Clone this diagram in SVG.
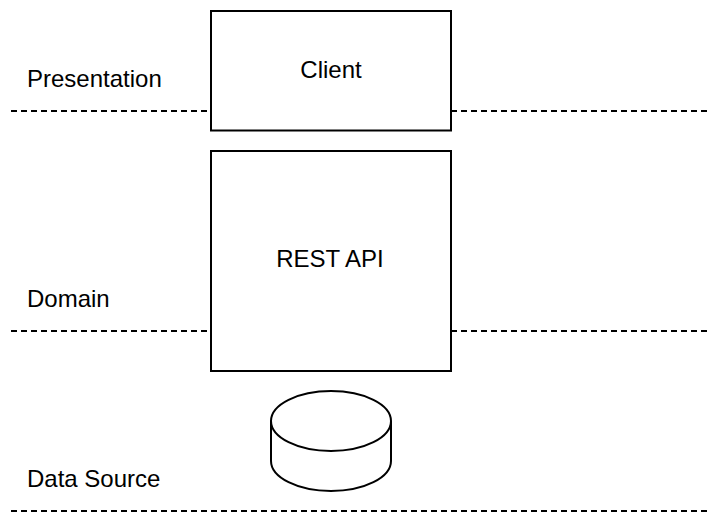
<svg xmlns="http://www.w3.org/2000/svg" width="726" height="526" viewBox="0 0 726 526">
  <style>
    .layer { stroke: #000; stroke-width: 2; stroke-dasharray: 6 4; fill: none; }
    .box { fill: #fff; stroke: #000; stroke-width: 2; }
    .label { font-family: "Liberation Sans", Arial, sans-serif; font-size: 24px; fill: #000; }
    .center { text-anchor: middle; }
  </style>
  <rect width="726" height="526" fill="#fff"/>

  <!-- layer boundaries -->
  <g id="connectors">
    <line class="layer" x1="11" y1="111" x2="711" y2="111"/>
    <line class="layer" x1="11" y1="331" x2="711" y2="331"/>
    <line class="layer" x1="11" y1="511" x2="711" y2="511"/>
  </g>

  <!-- layer names -->
  <g id="layer-presentation">
    <text class="label" x="27" y="87">Presentation</text>
  </g>
  <g id="layer-domain">
    <text class="label" x="27" y="307">Domain</text>
  </g>
  <g id="layer-datasource">
    <text class="label" x="27" y="487">Data Source</text>
  </g>

  <g id="client">
    <rect class="box" x="211" y="11" width="240" height="119.5"/>
    <text class="label center" x="331" y="78">Client</text>
  </g>

  <g id="rest-api">
    <rect class="box" x="211" y="151" width="240" height="220"/>
    <text class="label center" x="330" y="267">REST API</text>
  </g>

  <g id="database">
    <path class="box" d="M271 421 A60 30 0 0 1 391 421 L391 461 A60 30 0 0 1 271 461 Z"/>
    <path class="box" fill="none" d="M271 421 A60 30 0 0 0 391 421"/>
  </g>
</svg>
